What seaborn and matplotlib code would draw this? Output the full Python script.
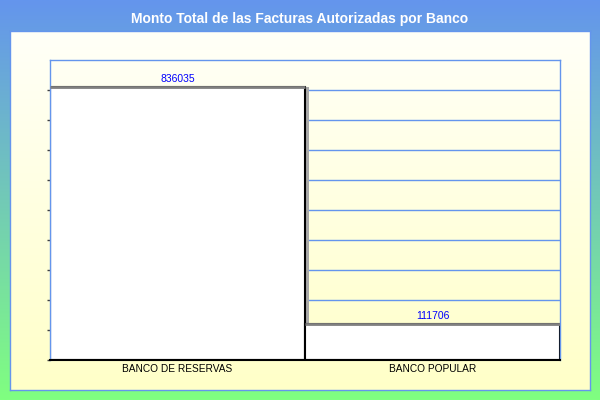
import numpy as np
import pandas as pd
import matplotlib
matplotlib.use("Agg")
import matplotlib.pyplot as plt
import seaborn as sns
from matplotlib.colors import LinearSegmentedColormap
from matplotlib.transforms import offset_copy
from matplotlib.ticker import NullFormatter

# ---- data ----
bancos = ["BANCO DE RESERVAS", "BANCO POPULAR"]
montos = [836035, 111706]
titulo = "Monto Total de las Facturas Autorizadas por Banco"

sns.set_theme(style="white")
plt.rcParams["font.family"] = ["Liberation Sans", "DejaVu Sans"]

W, H = 600, 400
fig = plt.figure(figsize=(W / 100, H / 100), dpi=100)

# background gradient (blue -> green)
bg = fig.add_axes([0, 0, 1, 1], zorder=-10)
cmap_bg = LinearSegmentedColormap.from_list("bg", ["#6495ED", "#80FF80"])
bg.imshow(np.linspace(0, 1, 256).reshape(-1, 1), cmap=cmap_bg, aspect="auto",
          extent=[0, 1, 0, 1], origin="upper")
bg.set_axis_off()

# inner panel (light yellow gradient with blue border)
panel = fig.add_axes([10 / W, 10 / H, 580 / W, 359 / H], zorder=-5)
cmap_p = LinearSegmentedColormap.from_list("pn", ["#FFFFF8", "#FFFFC8"])
panel.imshow(np.linspace(0, 1, 256).reshape(-1, 1), cmap=cmap_p, aspect="auto",
             extent=[0, 1, 0, 1], origin="upper")
panel.set_xticks([]); panel.set_yticks([])
for s in panel.spines.values():
    s.set_color("#6495ED"); s.set_linewidth(1)

fig.text(0.5, 1 - 19 / H, titulo, ha="center", va="center", color="white",
         fontsize=10, fontweight="bold")

# main plot
ax = fig.add_axes([50 / W, 40 / H, 510 / W, 300 / H])
ax.set_facecolor("none")
df = pd.DataFrame({"banco": bancos, "monto": montos})

# shadow bars
sns.barplot(data=df, x="banco", y="monto", color="#A8A8A8", width=1.0,
            saturation=1, linewidth=0, ax=ax)
shadow_off = offset_copy(ax.transData, fig=fig, x=4, y=0, units="dots")
for p in ax.patches:
    p.set_transform(shadow_off)
n_shadow = len(ax.patches)

# main bars
sns.barplot(data=df, x="banco", y="monto", color="white", width=1.0,
            saturation=1, edgecolor="black", linewidth=1.5, ax=ax)
bars = ax.patches[n_shadow:]
for p in bars:
    ax.hlines(p.get_height(), p.get_x(), p.get_x() + p.get_width(),
              color="#808080", lw=2, zorder=3)
ax.bar_label(ax.containers[-1], labels=[str(v) for v in montos], padding=2,
             color="#0000FF", fontsize=7.5)

ymax = max(montos) * 1.1
ax.set_ylim(0, ymax)
ax.set_xlim(-0.5, 1.5)
ax.set_yticks(np.arange(10) * ymax / 10)
ax.yaxis.set_major_formatter(NullFormatter())
ax.yaxis.grid(True, color="#6495ED", lw=1)
ax.xaxis.grid(False)
ax.set_axisbelow(True)
ax.tick_params(axis="y", left=True, length=2, width=1, color="#404040", pad=0)
ax.tick_params(axis="x", bottom=False, length=0, pad=3, labelsize=7.3,
               labelcolor="black")
ax.set_xlabel("")
ax.set_ylabel("")
for side in ["top", "left", "right"]:
    ax.spines[side].set_color("#6495ED")
    ax.spines[side].set_linewidth(1)
ax.spines["bottom"].set_color("black")
ax.spines["bottom"].set_linewidth(1.5)

fig.savefig("out.png", dpi=100)
